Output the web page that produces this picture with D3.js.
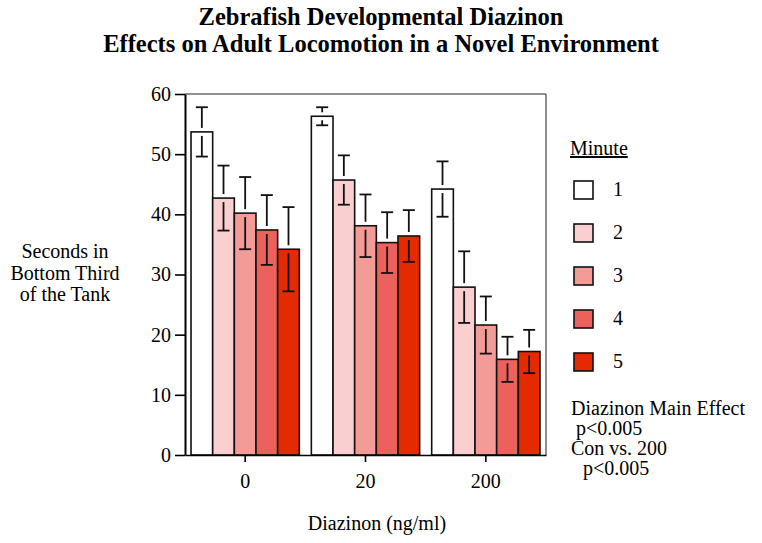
<!DOCTYPE html>
<html>
<head>
<meta charset="utf-8">
<script src="https://cdn.jsdelivr.net/npm/d3@7"></script>
<style>
  body { margin: 0; background: #fff; font-family: 'Liberation Serif', 'DejaVu Serif', serif; }
</style>
</head>
<body>
<div id="chart"></div>
<script>
// Data
const doses = ["0", "20", "200"];
const minutes = ["1", "2", "3", "4", "5"];
const mean0 = [53.7, 42.7, 40.2, 37.4, 34.2];
const mean20 = [56.3, 45.7, 38.1, 35.3, 36.4];
const mean200 = [44.2, 27.9, 21.6, 15.9, 17.2];
const sem0 = [4.1, 5.4, 6.0, 5.8, 7.0];
const sem20 = [1.5, 4.1, 5.2, 5.05, 4.3];
const sem200 = [4.6, 5.95, 4.75, 3.75, 3.6];
const yTicks = [0, 10, 20, 30, 40, 50, 60];
const colors = ["#ffffff", "#fbcfcf", "#f39c97", "#ec615c", "#e62a00"];

const FONT = "'Liberation Serif', 'DejaVu Serif', serif";

const means = [mean0, mean20, mean200];
const sems = [sem0, sem20, sem200];
const rows = [];
doses.forEach((d, i) => minutes.forEach((m, j) => {
    rows.push({ dose: d, minute: m, mean: means[i][j], sem: sems[i][j] });
}));

const W = 762, H = 543;
const svg = d3.select("#chart").append("svg")
    .attr("width", W)
    .attr("height", H)
    .attr("font-family", FONT);

const pLeft = 185, pRight = 546, pTop = 94, pBottom = 455;

const x0 = d3.scaleBand()
    .domain(doses)
    .range([pLeft, pRight])
    .paddingInner(0.1)
    .paddingOuter(0.05);

const x1 = d3.scaleBand()
    .domain(minutes)
    .range([0, x0.bandwidth()]);

const y = d3.scaleLinear()
    .domain([0, 60])
    .range([pBottom, pTop]);

const color = d3.scaleOrdinal().domain(minutes).range(colors);

// Title
svg.append("text")
    .attr("x", 381).attr("y", 25)
    .attr("text-anchor", "middle")
    .style("font-size", "24.5px").style("font-weight", "bold")
    .text("Zebrafish Developmental Diazinon");
svg.append("text")
    .attr("x", 381).attr("y", 52)
    .attr("text-anchor", "middle")
    .style("font-size", "24.5px").style("font-weight", "bold")
    .text("Effects on Adult Locomotion in a Novel Environment");

// Bars
svg.selectAll(".bar")
    .data(rows)
    .enter()
    .append("rect")
    .attr("class", "bar")
    .attr("x", d => x0(d.dose) + x1(d.minute))
    .attr("y", d => y(d.mean))
    .attr("width", x1.bandwidth())
    .attr("height", d => y(0) - y(d.mean))
    .attr("fill", d => color(d.minute))
    .attr("stroke", "#111")
    .attr("stroke-width", 1.6);

// Error bars (small gap where they cross the bar top)
const eb = svg.append("g").attr("stroke", "#111").attr("stroke-width", 1.8);
rows.forEach(d => {
    const cx = x0(d.dose) + x1(d.minute) + x1.bandwidth() / 2;
    const yt = y(d.mean), yu = y(d.mean + d.sem), yd = y(d.mean - d.sem);
    const cap = 6;
    eb.append("line").attr("x1", cx).attr("x2", cx).attr("y1", yu).attr("y2", yt - 4);
    eb.append("line").attr("x1", cx).attr("x2", cx).attr("y1", yt + 4).attr("y2", yd);
    eb.append("line").attr("x1", cx - cap).attr("x2", cx + cap).attr("y1", yu).attr("y2", yu);
    eb.append("line").attr("x1", cx - cap).attr("x2", cx + cap).attr("y1", yd).attr("y2", yd);
});

// Frame
svg.append("line").attr("x1", pLeft).attr("x2", pRight).attr("y1", pTop).attr("y2", pTop)
    .attr("stroke", "#222").attr("stroke-width", 1.2);
svg.append("line").attr("x1", pRight).attr("x2", pRight).attr("y1", pTop).attr("y2", pBottom)
    .attr("stroke", "#444").attr("stroke-width", 1.2);

// Axes
const yAxis = svg.append("g")
    .attr("transform", `translate(${pLeft},0)`)
    .call(d3.axisLeft(y).tickValues(yTicks).tickSize(10).tickPadding(4).tickSizeOuter(0))
    .attr("font-family", FONT)
    .attr("font-size", 20);
yAxis.select(".domain").attr("stroke", "#000").attr("stroke-width", 2);
yAxis.selectAll(".tick line").attr("stroke", "#000").attr("stroke-width", 1.6);
yAxis.selectAll(".tick text").attr("fill", "#000");

const xAxis = svg.append("g")
    .attr("transform", `translate(0,${pBottom})`)
    .call(d3.axisBottom(x0).tickSize(7).tickPadding(12).tickSizeOuter(0))
    .attr("font-family", FONT)
    .attr("font-size", 20);
xAxis.select(".domain").attr("stroke", "#000").attr("stroke-width", 1.6);
xAxis.selectAll(".tick line").attr("stroke", "#000").attr("stroke-width", 1.6);
xAxis.selectAll(".tick text").attr("fill", "#000");

// Axis labels
svg.append("text")
    .attr("x", 377).attr("y", 530)
    .attr("text-anchor", "middle")
    .style("font-size", "20px")
    .text("Diazinon (ng/ml)");

const yLab = ["Seconds in", "Bottom Third", "of the Tank"];
svg.append("g").selectAll("text")
    .data(yLab)
    .enter()
    .append("text")
    .attr("x", 65)
    .attr("y", (d, i) => 258 + i * 21.5)
    .attr("text-anchor", "middle")
    .style("font-size", "20px")
    .text(d => d);

// Legend
svg.append("text")
    .attr("x", 570).attr("y", 155)
    .style("font-size", "20px")
    .style("text-decoration", "underline")
    .text("Minute");

const legend = svg.append("g").selectAll("g")
    .data(minutes)
    .enter()
    .append("g")
    .attr("transform", (d, i) => `translate(574,${181 + i * 43})`);
legend.append("rect")
    .attr("width", 19).attr("height", 18)
    .attr("fill", d => color(d))
    .attr("stroke", "#111").attr("stroke-width", 1.6);
legend.append("text")
    .attr("x", 44).attr("y", 15)
    .attr("text-anchor", "middle")
    .style("font-size", "20px")
    .text(d => d);

// Statistics note
const notes = [
    { t: "Diazinon Main Effect", dx: 571 },
    { t: "p<0.005", dx: 576 },
    { t: "Con vs. 200", dx: 571 },
    { t: "p<0.005", dx: 583 }
];
svg.append("g").selectAll("text")
    .data(notes)
    .enter()
    .append("text")
    .attr("x", d => d.dx)
    .attr("y", (d, i) => 415 + i * 20)
    .style("font-size", "20px")
    .text(d => d.t);
</script>
</body>
</html>
